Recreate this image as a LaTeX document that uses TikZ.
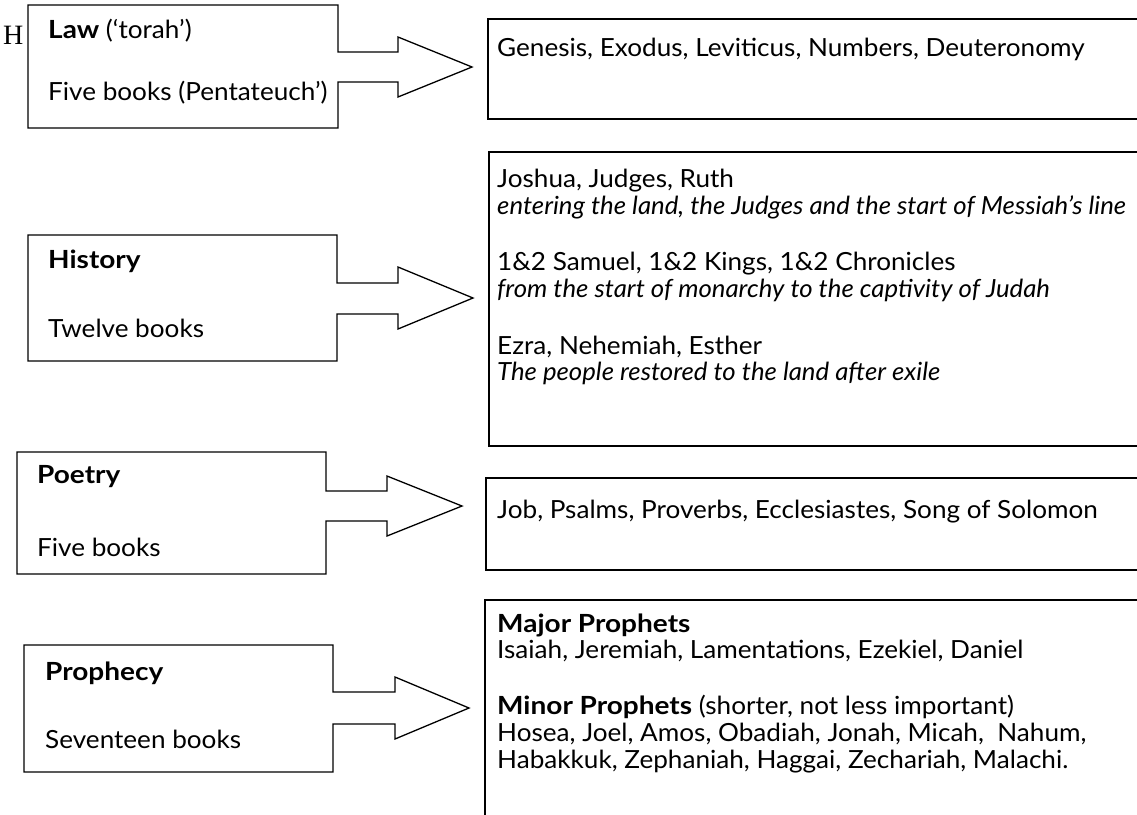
\documentclass[tikz,border=0pt]{standalone}
\usepackage{fontspec}
\setmainfont{Lato}[FakeStretch=1.045, BoldFeatures={FakeStretch=1.12}, ItalicFeatures={FakeStretch=1.03}]
\newfontfamily\serifH{Liberation Serif}
\begin{document}
\begin{tikzpicture}[x=1pt,y=-1pt,
  shapeline/.style={draw=black, line width=1.3pt, fill=white, line join=miter},
  boxline/.style={draw=black, line width=1.3pt},
  txt/.style={anchor=base west, inner sep=0pt, font=\fontsize{25}{28}\selectfont},
  ttl/.style={txt, font=\fontsize{25}{28}\selectfont\bfseries}]
\useasboundingbox (0,0) rectangle (1137,814);
\fill[white] (0,0) rectangle (1137,814);
% stray heading letter
\node[anchor=base west, inner sep=0pt, font=\serifH\fontsize{28}{32}\selectfont] (hletter) at (3,44) {H};
% left arrow boxes
\draw[shapeline] (28,5) -- (338,5) -- (338,52) -- (398,52) -- (398,37) -- (472,67) -- (398,97) -- (398,82) -- (338,82) -- (338,128) -- (28,128) -- cycle;
\draw[shapeline] (28,235) -- (337,235) -- (337,283) -- (398,283) -- (398,267) -- (473,298) -- (398,329) -- (398,314) -- (337,314) -- (337,361) -- (28,361) -- cycle;
\draw[shapeline] (17,452) -- (326,452) -- (326,491) -- (387,491) -- (387,476) -- (462,506) -- (387,536) -- (387,521) -- (326,521) -- (326,574) -- (17,574) -- cycle;
\draw[shapeline] (24,645) -- (333,645) -- (333,692) -- (395,692) -- (395,677) -- (469,708) -- (395,739) -- (395,724) -- (333,724) -- (333,772) -- (24,772) -- cycle;
% right boxes (open on the right)
\draw[boxline] (1140,19) -- (488,19) -- (488,119) -- (1140,119);
\draw[boxline] (1140,152) -- (489,152) -- (489,446) -- (1140,446);
\draw[boxline] (1140,478) -- (486,478) -- (486,570) -- (1140,570);
\draw[boxline] (1140,600) -- (485,600) -- (485,820);
% left texts
\node[txt] (law) at (48,38) {\textbf{Law} (‘torah’)};
\node[txt] (lawn) at (48,100) {Five books (Pentateuch’)};
\node[ttl] (hist) at (48,268) {History};
\node[txt] (histn) at (48,337) {Twelve books};
\node[ttl] (poet) at (37,483) {Poetry};
\node[txt] (poetn) at (37,556) {Five books};
\node[ttl] (proph) at (45,680) {Prophecy};
\node[txt] (prophn) at (45,748) {Seventeen books};
% right texts
\node[txt] (r1) at (497,56) {Genesis, Exodus, Leviticus, Numbers, Deuteronomy};
\node[txt] (r2a) at (497,187) {Joshua, Judges, Ruth};
\node[txt] (r2b) at (497,214) {\itshape entering the land, the Judges and the start of Messiah’s line};
\node[txt] (r2c) at (497,270) {1\&2 Samuel, 1\&2 Kings, 1\&2 Chronicles};
\node[txt] (r2d) at (497,297) {\itshape from the start of monarchy to the captivity of Judah};
\node[txt] (r2e) at (497,354) {Ezra, Nehemiah, Esther};
\node[txt] (r2f) at (497,380) {\itshape The people restored to the land after exile};
\node[txt] (r3) at (497,518) {Job, Psalms, Proverbs, Ecclesiastes, Song of Solomon};
\node[ttl] (r4a) at (497,632) {Major Prophets};
\node[txt] (r4b) at (497,658) {Isaiah, Jeremiah, Lamentations, Ezekiel, Daniel};
\node[txt] (r4c) at (497,714) {\textbf{Minor Prophets} (shorter, not less important)};
\node[txt] (r4d) at (497,741) {Hosea, Joel, Amos, Obadiah, Jonah, Micah,\ \ Nahum,};
\node[txt] (r4e) at (497,768) {Habakkuk, Zephaniah, Haggai, Zechariah, Malachi.};
\end{tikzpicture}
\end{document}
